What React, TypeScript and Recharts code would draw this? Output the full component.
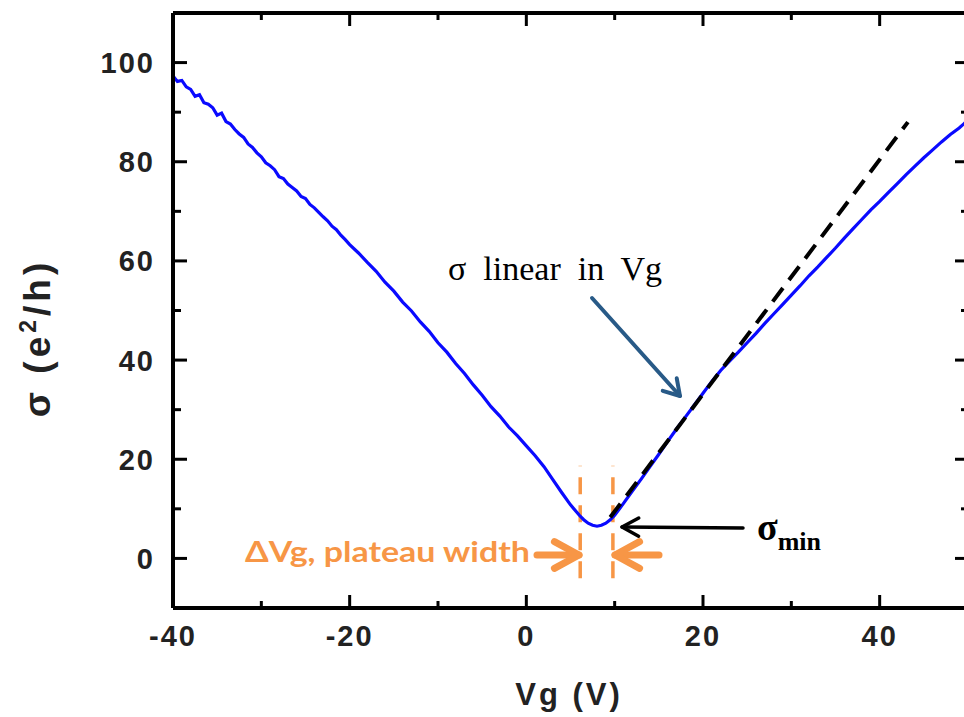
import React from 'react';
import { LineChart, Line, XAxis, YAxis, ReferenceLine } from 'recharts';

// sweep: [Vg (V), sigma (e^2/h)]
const holeSide: [number, number][] = [
  [-40, 97.3], [-39.5, 96.2], [-39, 96.4], [-38.5, 95.1], [-38, 94.6], [-37.5, 93.2],
  [-37, 93.5], [-36.5, 91.9], [-36, 91.6], [-35.5, 90.9], [-35, 89.4], [-34.5, 89.8],
  [-34, 88.1], [-33.5, 87.6], [-33, 86.5], [-32.5, 85.6], [-32, 84.9], [-31.5, 83.6],
  [-31, 82.9], [-30.5, 81.8], [-30, 81.0], [-29.5, 79.8], [-29, 79.2], [-28.5, 78.4],
  [-28, 77.0], [-27.5, 76.6], [-27, 75.5], [-26.5, 74.8], [-26, 74.1], [-25.5, 73.0],
  [-25, 72.6], [-24.5, 71.4], [-24, 70.7], [-23.5, 69.8], [-23, 68.9], [-22.5, 68.1],
  [-22, 67.0], [-21.5, 66.3], [-21, 65.2], [-20.5, 64.3], [-20, 63.3], [-19, 61.6],
  [-18, 59.7], [-17, 57.9], [-16, 55.7], [-15, 53.9], [-14, 51.7], [-13, 49.9],
  [-12, 47.7], [-11, 45.8], [-10, 43.5], [-9, 41.6], [-8, 39.3], [-7, 37.3],
  [-6, 35.0], [-5, 32.9], [-4, 30.6], [-3, 28.7], [-2, 26.5], [-1, 24.7],
  [0, 22.7], [1, 20.7], [2, 18.5], [3, 15.9], [4, 13.3], [5, 10.8],
];

const diracDip: [number, number][] = [
  [6, 8.7], [6.5, 7.8], [7, 7.1], [7.5, 6.7], [8, 6.5], [8.5, 6.7],
  [9, 7.1], [9.5, 7.8], [10, 8.7], [11, 11.1],
];

const electronSide: [number, number][] = [
  [12, 13.6], [13, 16.0], [14, 18.5], [15, 21.0], [16, 23.6], [17, 26.1],
  [18, 28.5], [19, 30.9], [20, 33.3], [21, 35.7], [22, 37.9], [23, 39.8],
  [24, 41.6], [25, 43.5], [26, 45.4], [27, 47.4], [28, 49.3], [29, 51.2],
  [30, 53.1], [31, 55.0], [32, 57.0], [33, 58.8], [34, 60.7], [35, 62.6],
  [36, 64.6], [37, 66.5], [38, 68.4], [39, 70.3], [40, 72.0], [41, 73.8],
  [42, 75.6], [43, 77.4], [44, 79.1], [45, 80.8], [46, 82.4], [47, 84.0],
  [48, 85.5], [49, 86.8], [49.5, 87.6], [50, 88.4],
];

// linear fit (dashed) end points
const fitVg = [9.5, 43.2];
const fitSigma = [8.3, 88.0];

// plateau edges
const plateauVg = [6.1, 9.8];
const plateauSigma = [-4, 18.7];

const xTicks = [-40, -30, -20, -10, 0, 10, 20, 30, 40, 50];
const yTicks = [-10, 0, 10, 20, 30, 40, 50, 60, 70, 80, 90, 100, 110];

const sweep = [...holeSide, ...diracDip, ...electronSide].map(([vg, sigma]) => ({ vg, sigma }));
const fitData = fitVg.map((vg, i) => ({ vg, fit: fitSigma[i] }));

const ORANGE = '#F79646';
const SANS = 'Arial, "Liberation Sans", sans-serif';
const SERIF = '"Times New Roman", "Liberation Serif", serif';
const AXIS = { stroke: '#000', strokeWidth: 4 };

const isMajor = (v: number) => v % 20 === 0;

const BottomTick = ({ x, y, payload }: any) => {
  const major = isMajor(payload.value);
  return (
    <g>
      <line x1={x} y1={y} x2={x} y2={y - (major ? 13 : 7)} stroke="#000" strokeWidth={3} />
      {major && (
        <text x={x} y={y + 38} textAnchor="middle" fontFamily={SANS} fontWeight="bold" fontSize={29} letterSpacing={2} fill="#222">
          {payload.value}
        </text>
      )}
    </g>
  );
};

const TopTick = ({ x, y, payload }: any) => (
  <line x1={x} y1={y} x2={x} y2={y + (isMajor(payload.value) ? 13 : 7)} stroke="#000" strokeWidth={3} />
);

const LeftTick = ({ x, y, payload }: any) => {
  const major = isMajor(payload.value);
  return (
    <g>
      <line x1={x} y1={y} x2={x + (major ? 14 : 8)} y2={y} stroke="#000" strokeWidth={3} />
      {major && (
        <text x={x - 18} y={y} dy="0.36em" textAnchor="end" fontFamily={SANS} fontWeight="bold" fontSize={29} letterSpacing={2} fill="#222">
          {payload.value}
        </text>
      )}
    </g>
  );
};

const RightTick = ({ x, y, payload }: any) => (
  <line x1={x} y1={y} x2={x - (isMajor(payload.value) ? 13 : 7)} y2={y} stroke="#000" strokeWidth={3} />
);

// open arrow head drawn at (x2,y2)
const Arrow = ({ x1, y1, x2, y2, color, width, head, spread }: any) => {
  const a = Math.atan2(y2 - y1, x2 - x1);
  const h1x = x2 - head * Math.cos(a - spread);
  const h1y = y2 - head * Math.sin(a - spread);
  const h2x = x2 - head * Math.cos(a + spread);
  const h2y = y2 - head * Math.sin(a + spread);
  return (
    <g stroke={color} strokeWidth={width} fill="none" strokeLinecap="round" strokeLinejoin="round">
      <line x1={x1} y1={y1} x2={x2} y2={y2} />
      <polyline points={`${h1x},${h1y} ${x2},${y2} ${h2x},${h2y}`} />
    </g>
  );
};

export default function App() {
  return (
    <div style={{ position: 'absolute', left: 8, top: 8, width: 956, height: 709, overflow: 'hidden' }}>
      <LineChart width={980} height={705} margin={{ top: 0, right: 10, left: 105, bottom: 55 }}>
        <XAxis
          xAxisId="bottom"
          type="number"
          dataKey="vg"
          domain={[-40, 50]}
          allowDataOverflow
          ticks={xTicks}
          interval={0}
          height={50}
          tickSize={0}
          tickMargin={0}
          tickLine={false}
          tick={<BottomTick />}
          axisLine={AXIS}
        />
        <XAxis
          xAxisId="top"
          orientation="top"
          type="number"
          dataKey="vg"
          domain={[-40, 50]}
          allowDataOverflow
          ticks={xTicks}
          interval={0}
          height={5}
          tickSize={0}
          tickMargin={0}
          tickLine={false}
          tick={<TopTick />}
          axisLine={AXIS}
        />
        <YAxis
          yAxisId="left"
          type="number"
          domain={[-10, 110]}
          allowDataOverflow
          ticks={yTicks}
          interval={0}
          width={60}
          tickSize={0}
          tickMargin={0}
          tickLine={false}
          tick={<LeftTick />}
          axisLine={AXIS}
        />
        <YAxis
          yAxisId="right"
          orientation="right"
          type="number"
          domain={[-10, 110]}
          allowDataOverflow
          ticks={yTicks}
          interval={0}
          width={10}
          tickSize={0}
          tickMargin={0}
          tickLine={false}
          tick={<RightTick />}
          axisLine={AXIS}
        />
        {plateauVg.map((v) => (
          <ReferenceLine
            key={v}
            xAxisId="bottom"
            yAxisId="left"
            segment={[{ x: v, y: plateauSigma[0] }, { x: v, y: plateauSigma[1] }]}
            stroke={ORANGE}
            strokeWidth={3.5}
            strokeDasharray="17 11"
          />
        ))}
        <Line
          xAxisId="bottom"
          yAxisId="left"
          data={sweep}
          dataKey="sigma"
          type="linear"
          stroke="#0a0aff"
          strokeWidth={3.2}
          dot={false}
          isAnimationActive={false}
        />
        <Line
          xAxisId="top"
          yAxisId="right"
          data={fitData}
          dataKey="fit"
          type="linear"
          stroke="#000"
          strokeWidth={4}
          strokeDasharray="17 10"
          dot={false}
          isAnimationActive={false}
        />
      </LineChart>

      <svg width={956} height={709} style={{ position: 'absolute', left: 0, top: 0, pointerEvents: 'none' }}>
        {/* axis titles */}
        <text x={561} y={697} textAnchor="middle" fontFamily={SANS} fontWeight="bold" fontSize={31} letterSpacing={3} fill="#222">
          Vg (V)
        </text>
        <text transform="translate(42,330) rotate(-90)" textAnchor="middle" fontFamily={SANS} fontWeight="bold" fontSize={37} letterSpacing={4} fill="#222">
          σ (e<tspan dy={-14} fontSize={23}>2</tspan><tspan dy={14}>/h)</tspan>
        </text>

        {/* sigma linear annotation */}
        <text x={440} y={272} fontFamily={SERIF} fontSize={34} fill="#000" style={{ whiteSpace: 'pre' }}>
          σ  linear  in  Vg
        </text>
        <Arrow x1={584} y1={290} x2={672} y2={388} color="#285a87" width={4} head={18} spread={0.55} />

        {/* sigma min annotation */}
        <Arrow x1={735} y1={520} x2={614} y2={519} color="#000" width={3.5} head={19} spread={0.5} />
        <text x={749} y={532} fontFamily={SERIF} fontWeight="bold" fontSize={38} fill="#000">
          σ<tspan dy={10} fontSize={26}>min</tspan>
        </text>

        {/* plateau width annotation */}
        <text x={237} y={554} fontFamily='Lato, "Open Sans", sans-serif' fontWeight="bold" fontSize={28} fill={ORANGE} textLength={285} lengthAdjust="spacingAndGlyphs">
          ΔVg, plateau width
        </text>
        <Arrow x1={529} y1={547} x2={571} y2={547} color={ORANGE} width={7} head={28} spread={0.5} />
        <Arrow x1={651} y1={547} x2={607} y2={547} color={ORANGE} width={7} head={28} spread={0.5} />
      </svg>
    </div>
  );
}
